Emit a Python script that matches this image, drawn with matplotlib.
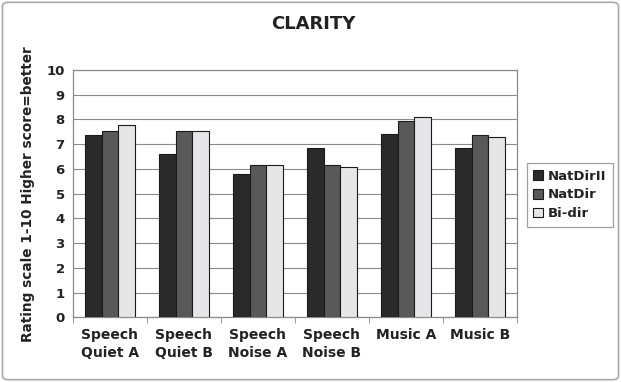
import matplotlib
matplotlib.use("Agg")
import matplotlib.pyplot as plt
import numpy as np
from matplotlib.patches import FancyBboxPatch

categories = ["Speech\nQuiet A", "Speech\nQuiet B", "Speech\nNoise A", "Speech\nNoise B", "Music A", "Music B"]
series_names = ["NatDirII", "NatDir", "Bi-dir"]
natdirii = [7.37, 6.62, 5.78, 6.85, 7.43, 6.85]
natdir = [7.55, 7.55, 6.15, 6.15, 7.94, 7.37]
bidir = [7.76, 7.55, 6.17, 6.09, 8.10, 7.28]
y_ticks = list(range(0, 11))

colors = ["#2a2a2a", "#595959", "#e6e6e8"]
series = [natdirii, natdir, bidir]

plt.rcParams['font.family'] = ['DejaVu Sans']
fig = plt.figure(figsize=(6.21, 3.82), dpi=100)
ax = fig.add_axes([73/621, 1-317.3/382, (517-73)/621, (317.3-70)/382])

x = np.arange(len(categories))
w = 0.227
for i, (vals, c, name) in enumerate(zip(series, colors, series_names)):
    ax.bar(x + (i-1)*w, vals, width=w, color=c, edgecolor="#1a1a1a", linewidth=0.8, label=name, zorder=3)

ax.set_xlim(-0.5, len(categories)-0.5)
ax.set_ylim(0, 10)
ax.set_yticks(y_ticks)
ax.set_yticklabels([str(t) for t in y_ticks], fontsize=9.5, fontweight='bold', color="#222222")
ax.yaxis.grid(True, color="#8a8a8a", linewidth=0.8, zorder=0)
ax.set_axisbelow(True)
ax.tick_params(axis='y', length=0, pad=6)
ax.set_xticks(np.arange(len(categories)+1) - 0.5, minor=True)
ax.set_xticks(x)
ax.set_xticklabels(categories, fontsize=10, fontweight='bold', color="#222222", ha='center', va='top', linespacing=1.3)
ax.tick_params(axis='x', which='major', length=0, pad=8)
ax.tick_params(axis='x', which='minor', length=4, color="#888888")
for s in ["top", "right", "left", "bottom"]:
    ax.spines[s].set_color("#8a8a8a")
    ax.spines[s].set_linewidth(0.9)

ax.set_ylabel("Rating scale 1-10 Higher score=better", fontsize=9.8, fontweight='bold', labelpad=8, color="#222222")
fig.text(313/621, 1-24/382, "CLARITY", ha='center', va='center', fontsize=13, fontweight='bold', color="#222222")

leg = fig.legend(loc='center', bbox_to_anchor=(570/621, 1-195/382), frameon=True, fancybox=False,
                 prop={'weight': 'bold', 'size': 9.5}, handlelength=0.7, handleheight=0.7,
                 handletextpad=0.4, borderpad=0.5, labelspacing=0.45, edgecolor="#888888")
leg.get_frame().set_linewidth(0.9)
for t in leg.get_texts():
    t.set_color("#222222")

border = FancyBboxPatch((0.004, 0.006), 0.992, 0.988, boxstyle="round,pad=0,rounding_size=0.01",
                        transform=fig.transFigure, fill=False, edgecolor="#aaaaaa", linewidth=1.2)
fig.patches.append(border)

fig.savefig("out.png", dpi=100)
